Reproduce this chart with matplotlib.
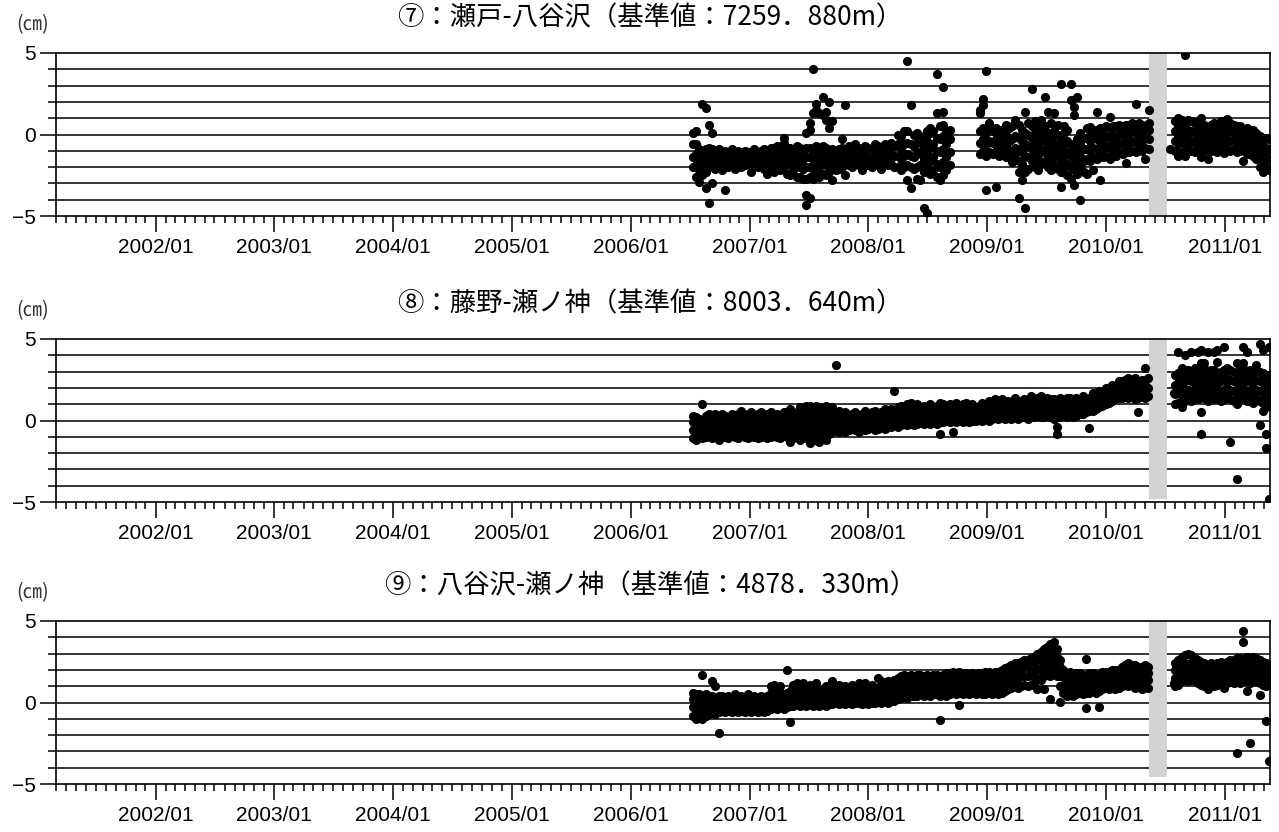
import numpy as np
import pandas as pd
import matplotlib
matplotlib.use("Agg")
import matplotlib.pyplot as plt
import matplotlib.dates as mdates

plt.rcParams['font.family'] = ['Liberation Sans', 'Noto Sans CJK JP', 'DejaVu Sans']

# =====================
# data (cm), one row = the points read in one 10-day slot
# =====================
titles = ["⑦：瀬戸-八谷沢（基準値：7259．880m）",
          "⑧：藤野-瀬ノ神（基準値：8003．640m）",
          "⑨：八谷沢-瀬ノ神（基準値：4878．330m）"]
unit_label = "(㎝)"

x_start = "2001-03-01"
x_end = "2011-05-20"
step_days = 10

gap_start = "2010-05-13"   # gray band (no observation)
gap_end = "2010-07-07"
gap_floor = [-5.0, -4.8, -4.6]

# ---- ⑦ ----
p1_a_start = "2006-07-10"
p1_a = [
    [-2.0, -1.4, -0.6, 0.1], [-2.6, -1.9, -1.2, -0.6, 0.2], [-2.9, -2.2, -1.6, -0.9],
    [-2.5, -1.8, -1.2, 1.9], [-3.3, -2.3, -1.6, -0.9, 1.6], [-4.2, -2.0, -1.4, -0.8, 0.6],
    [-3.0, -1.9, -1.3, -0.9, 0.1], [-2.1, -1.5, -1.0], [-1.9, -1.3, -0.9],
    [-2.2, -1.6, -1.1], [-3.4, -1.8, -1.3, -1.0], [-2.0, -1.5, -1.1],
    [-1.9, -1.4, -0.9], [-2.1, -1.6, -1.2], [-1.8, -1.4, -1.0],
    [-2.0, -1.5, -1.1], [-1.9, -1.4, -1.0], [-1.8, -1.5, -1.1],
    [-2.3, -1.6, -1.2], [-1.9, -1.3, -0.9], [-2.0, -1.5, -1.1],
    [-1.8, -1.3, -1.0], [-2.1, -1.4, -0.9], [-2.4, -1.6, -1.1],
    [-2.0, -1.4, -0.8], [-2.3, -1.7, -1.2, -0.8], [-1.9, -1.3, -0.7],
    [-2.2, -1.6, -1.0], [-2.0, -1.5, -1.0, -0.5, -0.2], [-2.4, -1.7, -1.1],
    [-2.5, -1.8, -1.3, -0.8], [-2.2, -1.5, -1.0], [-2.6, -1.9, -1.3, -0.7],
    [-2.6, -2.0, -1.4, -0.8], [-2.7, -2.1, -1.5, -0.9],
    [-4.3, -3.7, -2.7, -2.0, -1.4, -0.8, 0.1],
    [-3.9, -2.6, -2.0, -1.4, -0.8, 0.3, 0.7],
    [-2.7, -2.1, -1.5, -0.9, 1.3, 4.0], [-2.5, -1.9, -1.3, -0.7, 1.5, 1.9],
    [-2.6, -2.0, -1.4, -0.9, 1.3], [-2.4, -1.8, -1.2, -0.7, 2.3, 1.2],
    [-2.5, -1.9, -1.3, -0.8, 1.4, 0.9], [-2.3, -1.7, -1.1, 2.0, 0.4],
    [-2.8, -2.0, -1.4, -0.9, 0.8], [-2.2, -1.6, -1.0], [-2.1, -1.5, -0.9],
    [-2.0, -1.4, -0.8, -0.3], [-2.5, -1.6, -1.0, 1.8], [-1.9, -1.3, -0.7],
    [-2.0, -1.5, -0.9], [-1.8, -1.2, -0.6], [-1.9, -1.4, -0.8],
    [-2.2, -1.5, -0.9], [-1.8, -1.3, -0.7], [-1.9, -1.4, -0.8],
    [-2.0, -1.5, -0.9], [-1.8, -1.2, -0.6], [-1.9, -1.3, -0.7],
    [-2.1, -1.4, -0.8], [-1.8, -1.2, -0.6], [-1.9, -1.4, -0.8],
    [-1.8, -1.2, -0.5], [-2.0, -1.3, -0.7], [-2.0, -1.3, -0.6, 0.0],
    [-2.2, -1.5, -0.8, -0.1], [-2.0, -1.3, -0.6, 0.2],
    [-2.8, -1.9, -1.2, -0.5, 0.2, 4.5], [-3.3, -2.0, -1.3, -0.6, 1.8],
    [-2.1, -1.4, -0.7, 0.0], [-2.7, -2.0, -1.2, -0.5, 0.1],
    [-2.8, -1.9, -1.1, -0.4], [-4.5, -2.3, -1.5, -0.8, -0.1],
    [-4.8, -2.0, -1.2, -0.4, 0.2], [-2.4, -1.6, -0.8, 0.1, 0.4],
    [-2.2, -1.4, -0.6, 0.2], [-2.6, -1.8, -1.0, -0.2, 1.3, 3.7],
    [-2.8, -2.0, -1.1, -0.3, 0.5], [-2.5, -1.7, -0.9, -0.1, 0.6, 1.4, 2.9],
    [-2.2, -1.4, -0.6, 0.2], [-1.9, -1.1, -0.3, 0.3],
]
p1_b_start = "2008-12-08"
p1_b = [
    [-1.2, -0.5, 0.2, 1.3, 1.5], [-1.0, -0.3, 0.4, 2.2, 1.8], [-1.3, -0.6, 0.1, 3.9, -3.4],
    [-1.1, -0.4, 0.3, 0.7], [-1.2, -0.5, 0.2], [-1.0, -0.3, 0.4, -3.2],
    [-1.3, -0.6, 0.1], [-1.1, -0.4, 0.3], [-1.4, -0.7, 0.0, 0.6],
    [-1.2, -0.4, 0.4], [-1.7, -1.0, -0.3, 0.5], [-1.5, -0.8, -0.1, 0.9, -1.2],
    [-2.3, -1.6, -0.9, -0.2, 0.6, -3.9], [-2.8, -1.8, -1.1, -0.4, 0.3],
    [-4.5, -2.3, -1.3, -0.6, 0.1, 1.4], [-2.1, -1.4, -0.7, 0.0, 0.7],
    [-1.6, -0.9, -0.2, 0.5, 2.8], [-2.0, -1.3, -0.6, 0.1, 0.8],
    [-2.2, -1.5, -0.8, -0.1, 0.6], [-1.8, -1.1, -0.4, 0.3, 0.9],
    [-1.6, -0.9, -0.2, 0.5, 2.3], [-2.0, -1.3, -0.6, 0.1, 1.4],
    [-2.2, -1.5, -0.8, -0.1, 0.7], [-1.9, -1.2, -0.5, 0.2, 1.3],
    [-2.1, -1.4, -0.7, 0.0, 0.6], [-3.2, -2.3, -1.6, -0.9, -0.2, 3.1],
    [-2.0, -1.3, -0.6, 0.1, 0.5], [-2.5, -1.8, -1.1, -0.4, 0.3],
    [-2.7, -2.0, -1.3, -0.6, 2.1, 3.1], [-3.1, -2.2, -1.5, -0.8, 1.2, 1.7],
    [-2.4, -1.7, -1.0, -0.3, 2.3], [-4.0, -2.0, -1.3, -0.6, 0.1],
    [-2.3, -1.6, -0.9, -0.2], [-2.4, -1.5, -0.9, -0.2, 0.4],
    [-1.6, -1.0, -0.4, 0.2, 0.45], [-2.2, -1.4, -0.8, -0.2, 0.3],
    [-1.5, -0.9, -0.3, 0.3, 1.4], [-2.8, -1.3, -0.7, -0.1, 0.4],
    [-1.4, -0.8, -0.2, 0.4], [-1.3, -0.7, -0.1, 0.5],
    [-1.5, -0.8, -0.2, 0.4, 1.1], [-1.2, -0.6, 0.0, 0.5],
    [-1.3, -0.7, -0.1, 0.5], [-1.1, -0.5, 0.1, 0.6], [-1.2, -0.6, 0.0, 0.5],
    [-1.75, -1.0, -0.4, 0.2, 0.6], [-1.1, -0.5, 0.1, 0.6], [-1.0, -0.4, 0.2, 0.7],
    [-1.1, -0.5, 0.1, 0.6, 1.9], [-0.9, -0.3, 0.3, 0.7], [-1.0, -0.4, 0.2, 0.6],
    [-1.5, -0.8, -0.2, 0.4], [-0.9, -0.3, 0.3, 0.7, 1.5],
]
p1_c_start = "2010-08-01"
p1_c = [
    [-1.0, -0.4, 0.2, 0.8], [-1.3, -0.6, 0.0, 0.6, 1.0], [-1.1, -0.4, 0.2, 0.9],
    [-1.3, -0.6, 0.1, 0.7, 4.9], [-0.9, -0.3, 0.3, 0.9], [-1.0, -0.4, 0.2, 0.8],
    [-1.1, -0.5, 0.1, 0.7], [-0.9, -0.3, 0.3, 0.8], [-1.4, -0.6, 0.0, 0.6, 1.0],
    [-1.0, -0.4, 0.2, 0.6], [-1.5, -0.8, -0.2, 0.4], [-1.0, -0.4, 0.2, 0.6],
    [-0.9, -0.3, 0.3, 0.7], [-1.1, -0.5, 0.1, 0.6], [-0.8, -0.2, 0.4, 0.8],
    [-1.15, -0.5, 0.1, 0.7], [-0.9, -0.3, 0.3, 0.95], [-1.0, -0.4, 0.2, 0.7],
    [-0.9, -0.3, 0.3, 0.6], [-1.1, -0.5, 0.1, 0.5], [-1.0, -0.4, 0.2, 0.5],
    [-1.6, -0.9, -0.3, 0.3], [-1.2, -0.6, 0.0, 0.4], [-1.0, -0.5, 0.1, 0.3],
    [-1.3, -0.7, -0.1, 0.3], [-1.5, -0.9, -0.3, 0.1], [-2.0, -1.3, -0.7, -0.1],
    [-2.3, -1.6, -1.0, -0.4], [-2.0, -1.4, -0.8, -0.2], [-2.2, -1.5, -0.9, -0.3],
]
p1_extra_dates = ["2010-07-16"]
p1_extra_vals = [-0.9]

# ---- ⑧ ----
p2_a_start = "2006-07-10"
p2_a = [
    [-1.1, -0.6, -0.1, 0.3], [-1.2, -0.7, -0.2, 0.2], [-0.9, -0.4, 0.1], [-1.1, -0.6, -0.1, 1.0],
    [-1.0, -0.5, 0.0, 0.3], [-0.9, -0.4, 0.1, 0.4], [-1.1, -0.6, -0.1, 0.3], [-1.0, -0.5, 0.0, 0.4],
    [-1.2, -0.6, -0.1, 0.2], [-0.9, -0.4, 0.1, 0.4], [-1.0, -0.5, 0.0, 0.3], [-1.1, -0.6, -0.1, 0.2],
    [-0.9, -0.4, 0.1, 0.4], [-1.0, -0.5, 0.0, 0.3], [-1.1, -0.6, -0.1, 0.4], [-0.9, -0.4, 0.1, 0.6],
    [-1.0, -0.5, 0.0, 0.3], [-1.1, -0.6, -0.1, 0.4], [-0.9, -0.4, 0.1, 0.5], [-1.0, -0.5, 0.0, 0.3],
    [-1.1, -0.6, -0.1, 0.4], [-1.0, -0.4, 0.1, 0.5], [-0.9, -0.4, 0.0, 0.3], [-1.1, -0.6, -0.1, 0.4],
    [-1.0, -0.5, 0.0, 0.5], [-0.9, -0.4, 0.1, 0.3], [-1.0, -0.5, 0.0, 0.4], [-1.1, -0.6, -0.1, 0.3],
    [-0.9, -0.4, 0.1, 0.5], [-1.0, -0.5, 0.0, 0.4], [-1.3, -0.8, -0.3, 0.2, 0.7], [-1.1, -0.6, -0.1, 0.4],
    [-1.0, -0.5, 0.0, 0.5], [-1.2, -0.7, -0.2, 0.3, 0.8], [-1.0, -0.5, 0.0, 0.5], [-1.1, -0.6, -0.1, 0.4, 0.9],
    [-1.4, -0.7, -0.2, 0.3, 0.9], [-1.0, -0.5, 0.0, 0.5], [-1.2, -0.7, -0.2, 0.3, 0.9], [-1.3, -0.6, -0.1, 0.4, 0.8],
    [-0.9, -0.4, 0.1, 0.6], [-1.2, -0.5, 0.0, 0.5, 0.9], [-0.8, -0.3, 0.2, 0.6], [-0.7, -0.2, 0.3, 0.8],
    [-0.6, -0.1, 0.4, 3.4], [-0.7, -0.2, 0.3, 0.6], [-0.6, -0.1, 0.3], [-0.7, -0.2, 0.2, 0.5],
    [-0.6, -0.1, 0.3], [-0.5, 0.0, 0.4], [-0.6, -0.1, 0.3, 0.5], [-0.7, -0.2, 0.2],
    [-0.5, 0.0, 0.4], [-0.6, -0.1, 0.3, 0.6], [-0.5, 0.0, 0.4], [-0.4, 0.1, 0.5],
    [-0.6, -0.1, 0.3, 0.6], [-0.5, 0.0, 0.4], [-0.4, 0.1, 0.5], [-0.5, 0.0, 0.4, 0.7],
    [-0.3, 0.1, 0.5], [-0.4, 0.0, 0.4, 0.7], [-0.3, 0.2, 0.6, 1.8], [-0.4, 0.1, 0.5, 0.8],
    [-0.3, 0.2, 0.6, 0.9], [-0.2, 0.3, 0.7], [-0.3, 0.2, 0.6, 1.0], [-0.2, 0.3, 0.7, 1.1],
    [-0.3, 0.2, 0.6], [-0.2, 0.3, 0.7, 1.0], [-0.1, 0.3, 0.7], [-0.2, 0.2, 0.6, 0.9],
    [-0.1, 0.3, 0.7], [-0.2, 0.3, 0.7, 1.0], [-0.1, 0.3, 0.6], [-0.2, 0.2, 0.6, 0.9],
    [-0.8, -0.1, 0.3, 0.7, 1.1], [-0.1, 0.3, 0.7, 1.0], [0.0, 0.4, 0.8], [-0.1, 0.3, 0.7, 1.0],
    [-0.7, 0.0, 0.4, 0.8], [-0.1, 0.3, 0.7, 1.1], [0.0, 0.4, 0.8], [-0.1, 0.3, 0.7, 1.0],
    [0.0, 0.4, 0.8, 1.1], [-0.1, 0.3, 0.7], [0.0, 0.4, 0.8, 1.0], [0.0, 0.4, 0.7],
    [0.1, 0.5, 0.9], [0.0, 0.4, 0.8, 1.1], [0.1, 0.5, 0.9], [0.0, 0.4, 0.8, 1.2],
    [0.1, 0.5, 0.9], [0.2, 0.6, 1.0, 1.3], [0.1, 0.5, 0.9], [0.2, 0.6, 1.0, 1.3],
    [0.1, 0.5, 0.9], [0.2, 0.6, 1.0, 1.2], [0.1, 0.5, 0.9], [0.2, 0.6, 1.0, 1.4],
    [0.1, 0.5, 0.9, 1.2], [0.2, 0.6, 1.0], [0.2, 0.6, 1.0, 1.3], [0.1, 0.5, 0.9],
    [0.3, 0.7, 1.1, 1.5], [0.2, 0.6, 1.0], [0.3, 0.7, 1.1, 1.4], [0.2, 0.6, 1.0, 1.5],
    [0.2, 0.6, 1.0], [0.3, 0.7, 1.1, 1.4], [0.2, 0.6, 1.0, 1.3], [0.1, 0.5, 0.9, 1.3],
    [-0.8, -0.4, 0.2, 0.6, 1.0], [0.2, 0.6, 1.0, 1.4], [0.3, 0.7, 1.1], [0.2, 0.6, 1.0, 1.4],
    [0.3, 0.7, 1.1, 1.4], [0.2, 0.6, 1.0], [0.3, 0.7, 1.1, 1.4], [0.4, 0.8, 1.2],
    [0.4, 0.8, 1.2, 1.5], [0.5, 0.9, 1.3], [-0.45, 0.6, 1.0, 1.4], [0.6, 1.0, 1.4, 1.7],
    [0.7, 1.1, 1.5], [0.8, 1.2, 1.6, 1.8], [0.9, 1.3, 1.7], [1.0, 1.4, 1.8, 2.0],
    [1.1, 1.5, 1.9], [1.2, 1.6, 2.0, 2.2], [1.3, 1.7, 2.1], [1.4, 1.8, 2.2, 2.4],
    [1.4, 1.9, 2.4], [1.5, 2.0, 2.5], [1.4, 1.9, 2.4, 2.6], [1.5, 2.0, 2.5],
    [1.3, 1.8, 2.3, 2.6], [0.5, 1.4, 1.9, 2.4], [1.5, 2.0, 2.5], [1.4, 1.9, 2.4, 3.2],
    [1.5, 2.0, 2.6],
]
p2_c_start = "2010-08-01"
p2_c = [
    [1.0, 1.6, 2.2, 2.8], [1.1, 1.7, 2.3, 2.9, 4.2], [0.8, 1.5, 2.1, 2.7, 3.2],
    [1.2, 1.8, 2.4, 3.0, 4.0], [1.3, 1.9, 2.5, 3.1], [1.2, 1.8, 2.4, 3.0, 4.2],
    [1.4, 2.0, 2.6, 3.2], [1.3, 1.9, 2.5, 3.1, 4.2], [-0.8, 0.5, 1.5, 2.1, 2.7, 3.5, 4.3],
    [1.4, 2.0, 2.6, 3.2, 3.5], [1.2, 1.8, 2.4, 3.0, 4.2], [1.4, 2.0, 2.6, 3.1],
    [1.3, 1.9, 2.5, 3.1, 4.2], [1.4, 2.0, 2.6, 3.6, 4.3], [1.2, 1.8, 2.4, 3.0],
    [1.3, 1.9, 2.5, 3.1, 4.5], [1.4, 2.0, 2.6, 3.2], [-1.3, 1.3, 1.9, 2.5, 3.1],
    [1.2, 1.8, 2.4, 3.0], [-3.6, 1.0, 1.7, 2.3, 2.9, 3.5], [1.3, 1.9, 2.5, 3.1],
    [1.4, 2.0, 2.6, 3.2, 4.5, 3.5], [1.2, 1.8, 2.4, 3.0, 4.2], [1.3, 1.9, 2.5, 3.1],
    [1.1, 1.7, 2.3, 2.9], [1.3, 1.9, 2.5, 3.1, 3.4], [-0.3, 1.2, 1.8, 2.4, 3.0, 4.7],
    [0.6, 1.1, 1.7, 2.3, 2.9, 4.3], [-1.7, -0.8, 0.8, 1.4, 2.0, 2.6],
    [-4.8, 1.0, 1.6, 2.2, 2.8, 4.5],
]
p2_extra_dates = ["2010-07-28"]
p2_extra_vals = [1.7]

# ---- ⑨ ----
p3_a_start = "2006-07-10"
p3_a = [
    [-0.8, -0.3, 0.2, 0.6], [-1.0, -0.5, 0.0, 0.5], [-0.9, -0.4, 0.1, 0.5], [-1.0, -0.5, 0.0, 0.4, 1.7],
    [-0.8, -0.3, 0.2, 0.5], [-0.7, -0.2, 0.3], [-0.6, -0.1, 0.4, 1.3], [-0.7, -0.2, 0.3, 1.0],
    [-1.9, -0.6, -0.1, 0.4], [-0.5, 0.0, 0.4], [-0.6, -0.1, 0.3], [-0.5, 0.0, 0.4],
    [-0.6, -0.1, 0.3], [-0.5, 0.0, 0.5], [-0.6, -0.1, 0.3], [-0.5, 0.0, 0.4],
    [-0.6, -0.1, 0.3], [-0.5, 0.0, 0.5], [-0.6, -0.1, 0.3], [-0.5, 0.0, 0.4],
    [-0.6, -0.1, 0.3], [-0.5, 0.0, 0.4], [-0.6, -0.1, 0.3], [-0.5, 0.0, 0.4],
    [-0.4, 0.1, 0.6, 1.0], [-0.3, 0.2, 0.7, 1.1], [-0.4, 0.1, 0.6], [-0.3, 0.2, 0.6, 1.0],
    [-0.4, 0.1, 0.5], [-0.3, 0.2, 0.6, 2.0], [-1.2, -0.2, 0.3, 0.7], [-0.2, 0.3, 0.8, 1.1],
    [-0.1, 0.4, 0.9, 1.2], [-0.2, 0.3, 0.8], [-0.1, 0.4, 0.9, 1.2], [-0.2, 0.3, 0.7],
    [-0.1, 0.4, 0.8, 1.1], [-0.2, 0.3, 0.7], [-0.1, 0.3, 0.8, 1.2], [-0.2, 0.2, 0.7],
    [-0.1, 0.4, 0.8], [-0.2, 0.3, 0.7, 1.0], [-0.1, 0.4, 0.8], [-0.1, 0.3, 0.8, 1.3],
    [0.0, 0.4, 0.9], [-0.1, 0.3, 0.8, 1.1], [0.0, 0.4, 0.8], [-0.1, 0.3, 0.7, 1.0],
    [0.0, 0.4, 0.8], [-0.1, 0.3, 0.8, 1.1], [0.0, 0.4, 0.8], [0.0, 0.5, 0.9, 1.2],
    [-0.1, 0.4, 0.8], [0.0, 0.4, 0.9, 1.2], [-0.1, 0.3, 0.7], [0.0, 0.4, 0.8, 1.1],
    [0.0, 0.5, 0.9], [0.1, 0.5, 0.9, 1.5], [0.0, 0.5, 1.0, 1.3], [0.1, 0.5, 0.9],
    [0.0, 0.5, 1.0, 1.3], [0.1, 0.5, 0.9], [0.1, 0.6, 1.0, 1.4], [0.2, 0.7, 1.1, 1.5],
    [0.3, 0.8, 1.2, 1.6], [0.4, 0.8, 1.3, 1.7], [0.3, 0.8, 1.2, 1.6], [0.4, 0.9, 1.3, 1.7],
    [0.4, 0.8, 1.2, 1.6], [0.4, 0.9, 1.3, 1.7], [0.5, 0.9, 1.3, 1.7], [0.4, 0.8, 1.2, 1.6],
    [0.5, 0.9, 1.3, 1.7], [0.4, 0.9, 1.3, 1.6], [0.5, 0.9, 1.3, 1.7], [0.5, 1.0, 1.4, 1.7],
    [-1.1, 0.4, 0.9, 1.3], [0.5, 0.9, 1.3, 1.7], [0.4, 0.9, 1.3, 1.8], [0.5, 1.0, 1.4, 1.8],
    [0.6, 1.0, 1.4, 1.9], [0.5, 1.0, 1.4, 1.8], [-0.15, 0.6, 1.0, 1.5, 1.9], [0.5, 1.0, 1.4, 1.8],
    [0.6, 1.0, 1.4, 1.8], [0.5, 1.0, 1.4, 1.7], [0.6, 1.0, 1.5, 1.8], [0.5, 1.0, 1.4, 1.7],
    [0.6, 1.0, 1.4, 1.8], [0.5, 1.0, 1.4, 1.8], [0.5, 1.0, 1.5, 1.9], [0.6, 1.1, 1.5, 1.9],
    [0.5, 1.0, 1.4, 1.8], [0.6, 1.0, 1.5, 1.9], [0.5, 1.0, 1.5, 1.9], [0.6, 1.1, 1.6, 2.0],
    [0.7, 1.2, 1.7, 2.1], [0.8, 1.3, 1.8, 2.2], [0.9, 1.4, 1.9, 2.3], [1.0, 1.5, 2.0, 2.4],
    [0.9, 1.5, 2.0, 2.4], [1.0, 1.6, 2.1, 2.5], [1.1, 1.6, 2.2, 2.6], [1.0, 1.6, 2.2, 2.6],
    [1.1, 1.7, 2.3, 2.7], [1.2, 1.8, 2.4, 2.8], [0.8, 1.5, 2.1, 2.7, 3.0], [1.4, 2.0, 2.6, 3.1],
    [0.8, 1.6, 2.2, 2.8, 3.3], [1.8, 2.4, 3.0, 3.4], [0.2, 1.6, 2.2, 2.8, 3.4, 3.6], [2.0, 2.6, 3.2, 3.7],
    [1.6, 2.2, 2.8, 3.3], [0.05, 1.0, 1.6, 2.2, 2.6], [0.6, 1.1, 1.6, 2.0], [0.4, 0.9, 1.4, 1.8],
    [0.5, 1.0, 1.5, 1.9], [0.4, 0.9, 1.3, 1.7], [0.5, 0.9, 1.4, 1.8], [0.6, 1.0, 1.4, 1.8],
    [0.5, 0.9, 1.3, 1.7], [-0.35, 0.6, 1.0, 1.4, 2.65], [0.6, 1.0, 1.4, 1.8], [0.7, 1.1, 1.5, 1.8],
    [0.6, 1.0, 1.4, 1.7], [-0.3, 0.7, 1.1, 1.5], [0.8, 1.2, 1.6, 1.9], [0.9, 1.2, 1.6, 1.9],
    [0.8, 1.2, 1.6, 1.9], [0.9, 1.3, 1.7, 2.0], [0.8, 1.2, 1.6, 2.0], [0.9, 1.3, 1.7, 2.0],
    [1.0, 1.4, 1.8, 2.2], [1.1, 1.5, 1.9, 2.3], [1.0, 1.5, 1.9, 2.4], [1.1, 1.5, 2.0, 2.3],
    [0.9, 1.4, 1.9, 2.3], [1.0, 1.5, 1.9, 2.2], [0.8, 1.3, 1.8, 2.2], [1.0, 1.4, 1.9, 2.3],
    [0.9, 1.4, 1.8, 2.2],
]
p3_c_start = "2010-08-01"
p3_c = [
    [1.0, 1.5, 2.0, 2.4], [1.1, 1.6, 2.1, 2.6], [1.3, 1.8, 2.3, 2.8], [1.4, 1.9, 2.4, 2.9],
    [1.3, 1.8, 2.3, 3.0], [1.4, 1.9, 2.4, 2.9], [1.3, 1.8, 2.3, 2.7], [1.2, 1.7, 2.2, 2.6],
    [1.1, 1.6, 2.1, 2.5], [1.0, 1.5, 2.0, 2.4], [0.8, 1.2, 1.7, 2.2], [1.1, 1.5, 2.0, 2.4],
    [1.0, 1.5, 1.9, 2.3], [1.1, 1.5, 2.0, 2.4], [1.2, 1.6, 2.1, 2.5], [0.9, 1.4, 1.9, 2.3],
    [1.2, 1.6, 2.1, 2.5], [1.3, 1.7, 2.2, 2.6], [1.2, 1.7, 2.2, 2.6], [-3.1, 1.3, 1.8, 2.3, 2.7],
    [1.2, 1.7, 2.2, 2.7], [1.3, 1.8, 2.3, 3.7, 4.4], [0.7, 1.3, 1.8, 2.3, 2.8], [-2.5, 1.2, 1.7, 2.2, 2.6],
    [1.4, 1.9, 2.4, 2.8], [1.3, 1.8, 2.3, 2.7], [0.45, 1.2, 1.7, 2.2, 2.6], [1.1, 1.6, 2.1, 2.5],
    [-1.15, 1.0, 1.5, 2.0, 2.4], [-3.6, 1.1, 1.5, 2.0, 2.3],
]
p3_extra_dates = ["2010-07-28"]
p3_extra_vals = [1.2]


def expand(start, rows):
    t0 = pd.Timestamp(start)
    xs, ys = [], []
    for i, row in enumerate(rows):
        d = t0 + pd.Timedelta(days=step_days * i)
        for v in row:
            xs.append(d)
            ys.append(v)
    return xs, ys


panels = [
    [(p1_a_start, p1_a), (p1_b_start, p1_b), (p1_c_start, p1_c)],
    [(p2_a_start, p2_a), (p2_c_start, p2_c)],
    [(p3_a_start, p3_a), (p3_c_start, p3_c)],
]
extras = [(p1_extra_dates, p1_extra_vals), (p2_extra_dates, p2_extra_vals),
          (p3_extra_dates, p3_extra_vals)]

# =====================
# figure
# =====================
fig = plt.figure(figsize=(12.79, 8.32), dpi=100)
W, H = 1279, 832
ax_left, ax_right = 56, 1270
ax_tops = [53, 339, 621]
ax_h = 163

x0 = mdates.date2num(pd.Timestamp(x_start))
x1 = mdates.date2num(pd.Timestamp(x_end))

for n in range(3):
    top = ax_tops[n]
    ax = fig.add_axes([ax_left / W, 1 - (top + ax_h) / H, (ax_right - ax_left) / W, ax_h / H])

    # horizontal lines every 1 cm
    for yv in range(-4, 5):
        ax.axhline(yv, color="black", lw=1.1, zorder=1)

    # gray band (missing period)
    g0 = mdates.date2num(pd.Timestamp(gap_start))
    g1 = mdates.date2num(pd.Timestamp(gap_end))
    ax.axvspan(g0, g1, ymin=(gap_floor[n] + 5) / 10, ymax=1, color="#d3d3d3",
               lw=0, zorder=2)

    xs, ys = [], []
    for start, rows in panels[n]:
        a, b = expand(start, rows)
        xs += a
        ys += b
    xs += [pd.Timestamp(d) for d in extras[n][0]]
    ys += list(extras[n][1])
    ax.plot(mdates.date2num(xs), ys, "o", color="black", ms=6.6, mew=0, zorder=3)

    ax.set_xlim(x0, x1)
    ax.set_ylim(-5, 5)

    ax.set_yticks([-5, 0, 5])
    ax.set_yticks(np.arange(-5, 6, 1), minor=True)
    ax.xaxis.set_major_locator(mdates.YearLocator(month=1))
    ax.xaxis.set_minor_locator(mdates.MonthLocator())
    ax.xaxis.set_major_formatter(mdates.DateFormatter("%Y/%m"))

    ax.tick_params(axis="both", which="major", direction="out", length=11.5, width=1.1,
                   labelsize=15, colors="black")
    ax.tick_params(axis="both", which="minor", direction="out", length=5, width=1.1)
    ax.tick_params(axis="y", which="minor", length=6)
    ax.tick_params(axis="y", which="major", pad=3)
    ax.tick_params(axis="x", which="major", pad=4)

    for s in ax.spines.values():
        s.set_linewidth(1.2)
        s.set_zorder(4)

    ax.text((650 - ax_left) / (ax_right - ax_left), 1 + 35 / ax_h, titles[n],
            transform=ax.transAxes, ha="center", va="center", fontsize=19,
            family=["Noto Sans CJK JP", "DejaVu Sans"])
    ax.text((33 - ax_left) / (ax_right - ax_left), 1 + 28 / ax_h, unit_label,
            transform=ax.transAxes, ha="center", va="center", fontsize=14,
            color="#333333", family=["Noto Sans CJK JP", "DejaVu Sans"])

fig.savefig("out.png", dpi=100)
